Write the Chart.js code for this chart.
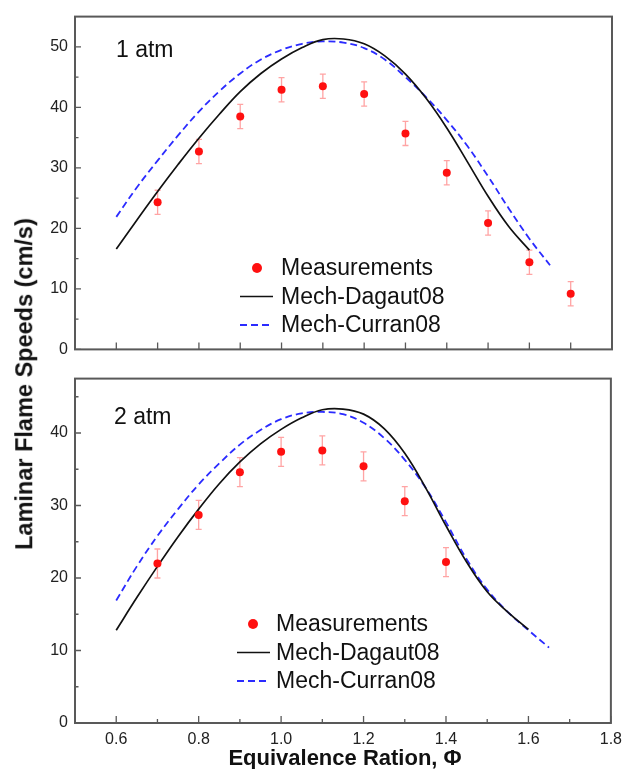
<!DOCTYPE html>
<html>
<head>
  <title>Laminar Flame Speeds</title>
  <script src="https://cdn.jsdelivr.net/npm/chart.js"></script>
  <style>
    body { margin: 0; background: #fff; width: 629px; height: 769px; position: relative; overflow: hidden;
           font-family: Arial, "Liberation Sans", sans-serif; color: #111; }
    canvas { position: absolute; left: 0; }
    .lbl { position: absolute; white-space: nowrap; line-height: 1; }
    .atm { font-size: 23px; transform: translateY(-50%); }
    #ytitle { left: 25px; top: 384px; font-size: 23.5px; font-weight: bold; transform: translate(-50%, -50%) rotate(-90deg); }
    #xtitle { left: 345px; top: 758px; font-size: 22px; font-weight: bold; transform: translate(-50%, -50%); }
  </style>
</head>
<body>
<canvas id="topChart" width="629" height="366" style="top:0"></canvas>
<canvas id="bottomChart" width="629" height="407" style="top:362px"></canvas>
<div class="lbl atm" style="left:116px;top:49px">1 atm</div>
<div class="lbl atm" style="left:114px;top:416px">2 atm</div>
<div class="lbl" id="ytitle">Laminar Flame Speeds (cm/s)</div>
<div class="lbl" id="xtitle">Equivalence Ration, Φ</div>

<script>
  // ---- data ----
  const phiMeas1 = [0.7, 0.8, 0.9, 1.0, 1.1, 1.2, 1.3, 1.4, 1.5, 1.6, 1.7];
  const speedMeas1 = [24.3, 32.7, 38.5, 42.9, 43.5, 42.2, 35.7, 29.2, 20.9, 14.4, 9.2];
  const errMeas1 = [2.0, 2.0, 2.0, 2.0, 2.0, 2.0, 2.0, 2.0, 2.0, 2.0, 2.0];

  const phiDagaut1 = [0.6, 0.65, 0.7, 0.75, 0.8, 0.85, 0.9, 0.95, 1.0, 1.05, 1.1, 1.15, 1.2, 1.25, 1.3, 1.35, 1.4, 1.45, 1.5, 1.55, 1.6];
  const speedDagaut1 = [16.6, 21.4, 26.1, 30.6, 34.9, 38.9, 42.6, 45.6, 48.0, 49.9, 51.2, 51.3, 50.5, 48.5, 45.5, 41.5, 36.6, 31.0, 25.3, 20.3, 16.4];
  const phiCurran1 = [0.6, 0.65, 0.7, 0.75, 0.8, 0.85, 0.9, 0.95, 1.0, 1.05, 1.1, 1.15, 1.2, 1.25, 1.3, 1.35, 1.4, 1.45, 1.5, 1.55, 1.6, 1.65];
  const speedCurran1 = [21.9, 26.8, 31.2, 35.4, 39.3, 42.7, 45.6, 47.9, 49.5, 50.5, 50.9, 50.7, 49.8, 47.9, 45.0, 41.7, 37.9, 33.6, 28.6, 23.3, 18.3, 13.9];

  const phiMeas2 = [0.7, 0.8, 0.9, 1.0, 1.1, 1.2, 1.3, 1.4];
  const speedMeas2 = [22.0, 28.7, 34.6, 37.4, 37.6, 35.4, 30.6, 22.2];
  const errMeas2 = [2.0, 2.0, 2.0, 2.0, 2.0, 2.0, 2.0, 2.0];

  const phiDagaut2 = [0.6, 0.65, 0.7, 0.75, 0.8, 0.85, 0.9, 0.95, 1.0, 1.05, 1.1, 1.15, 1.2, 1.25, 1.3, 1.35, 1.4, 1.45, 1.5, 1.55, 1.6];
  const speedDagaut2 = [12.8, 17.3, 21.6, 25.7, 29.5, 33.0, 36.0, 38.5, 40.5, 42.1, 43.2, 43.3, 42.6, 40.6, 37.2, 32.5, 27.2, 22.2, 18.1, 15.3, 12.9];
  const phiCurran2 = [0.6, 0.65, 0.7, 0.75, 0.8, 0.85, 0.9, 0.95, 1.0, 1.05, 1.1, 1.15, 1.2, 1.25, 1.3, 1.35, 1.4, 1.45, 1.5, 1.55, 1.6, 1.65];
  const speedCurran2 = [16.9, 21.6, 25.8, 29.5, 32.9, 35.8, 38.4, 40.4, 41.9, 42.7, 42.9, 42.6, 41.4, 39.3, 36.3, 32.5, 27.7, 22.6, 18.4, 15.3, 12.8, 10.4];

  // ---- ticks ----
  const xLabelTicks = [0.6, 0.8, 1.0, 1.2, 1.4, 1.6, 1.8];
  const xTopTicks = [0.6, 0.7, 0.8, 0.9, 1.0, 1.1, 1.2, 1.3, 1.4, 1.5, 1.6, 1.7];
  const xMinorTicks = [0.7, 0.9, 1.1, 1.3, 1.5, 1.7];
  const yTicks1 = [0, 10, 20, 30, 40, 50];
  const yTicks2 = [0, 10, 20, 30, 40];
  const yMinor1 = [5, 15, 25, 35, 45];
  const yMinor2 = [5, 15, 25, 35, 45];

  const labels = ['Measurements', 'Mech-Dagaut08', 'Mech-Curran08'];

  const pts = (xs, ys) => xs.map((x, i) => ({ x: x, y: ys[i] }));

  function frameAndLegend(p) {
    return {
      id: 'frameAndLegend',
      beforeDatasetsDraw(chart) {
        // error bars, under the markers
        const { ctx, scales: { x, y } } = chart;
        ctx.save();
        ctx.strokeStyle = 'rgba(255,90,90,0.55)';
        ctx.lineWidth = 1.3;
        ctx.beginPath();
        chart.data.datasets[0].data.forEach((d, i) => {
          const px = x.getPixelForValue(d.x);
          const y1 = y.getPixelForValue(d.y - p.errors[i]);
          const y2 = y.getPixelForValue(d.y + p.errors[i]);
          ctx.moveTo(px, y1); ctx.lineTo(px, y2);
          ctx.moveTo(px - 3, y1); ctx.lineTo(px + 3, y1);
          ctx.moveTo(px - 3, y2); ctx.lineTo(px + 3, y2);
        });
        ctx.stroke();
        ctx.restore();
      },
      afterDraw(chart) {
        const { ctx, chartArea: a, scales: { x, y } } = chart;
        ctx.save();
        ctx.strokeStyle = '#595959';
        ctx.lineWidth = 2;
        ctx.strokeRect(a.left, a.top, a.right - a.left, a.bottom - a.top);

        // inward ticks
        ctx.lineWidth = 1.3;
        ctx.beginPath();
        p.xMajor.forEach(v => {
          const px = x.getPixelForValue(v);
          ctx.moveTo(px, a.bottom); ctx.lineTo(px, a.bottom - 7);
        });
        p.xMinor.forEach(v => {
          const px = x.getPixelForValue(v);
          ctx.moveTo(px, a.bottom); ctx.lineTo(px, a.bottom - 4);
        });
        p.yMajor.forEach(v => {
          const py = y.getPixelForValue(v);
          ctx.moveTo(a.left, py); ctx.lineTo(a.left + 6, py);
        });
        p.yMinor.forEach(v => {
          const py = y.getPixelForValue(v);
          ctx.moveTo(a.left, py); ctx.lineTo(a.left + 3.5, py);
        });
        ctx.stroke();

        // legend inside the plot
        const L = p.legend;
        ctx.font = '23px Arial, "Liberation Sans", sans-serif';
        ctx.textBaseline = 'middle';
        chart.data.datasets.forEach((ds, i) => {
          const yy = L.y + i * L.gap;
          if (ds.showLine === false) {
            ctx.fillStyle = ds.backgroundColor;
            ctx.beginPath();
            ctx.arc(L.mark, yy, 5, 0, Math.PI * 2);
            ctx.fill();
          } else {
            ctx.strokeStyle = ds.borderColor;
            ctx.lineWidth = ds.borderWidth;
            ctx.setLineDash(ds.borderDash || []);
            ctx.beginPath();
            ctx.moveTo(L.x0, yy); ctx.lineTo(L.x1, yy);
            ctx.stroke();
            ctx.setLineDash([]);
          }
          ctx.fillStyle = '#111';
          ctx.fillText(ds.label, L.text, yy + 1);
        });
        ctx.restore();
      }
    };
  }

  function makeChart(id, cfg) {
    return new Chart(document.getElementById(id), {
      type: 'line',
      data: {
        datasets: [
          { label: labels[0], data: pts(cfg.mx, cfg.my), showLine: false,
            pointRadius: 4, pointBorderWidth: 0, backgroundColor: '#ff1010', borderColor: '#ff1010' },
          { label: labels[1], data: pts(cfg.dx, cfg.dy), borderColor: '#111', borderWidth: 1.7,
            pointRadius: 0, tension: 0.4, fill: false },
          { label: labels[2], data: pts(cfg.cx, cfg.cy), borderColor: '#2b2bff', borderWidth: 1.8,
            borderDash: [7, 4], pointRadius: 0, tension: 0.4, fill: false }
        ]
      },
      options: {
        responsive: false,
        devicePixelRatio: 1,
        animation: false,
        layout: { padding: { left: 0, right: 17, top: cfg.padTop, bottom: 0 } },
        plugins: { legend: { display: false }, tooltip: { enabled: false } },
        scales: {
          x: {
            type: 'linear', min: 0.5, max: 1.8,
            grid: { display: false, drawTicks: false },
            border: { display: false },
            afterBuildTicks: s => { s.ticks = xLabelTicks.map(v => ({ value: v })); },
            afterFit: s => { s.height = cfg.xHeight; },
            ticks: { display: cfg.showX, padding: 7, color: '#222', maxRotation: 0, autoSkip: false,
                     font: { size: 16, family: 'Arial, "Liberation Sans", sans-serif' },
                     callback: v => Number(v).toFixed(1) }
          },
          y: {
            min: 0, max: cfg.yMax,
            grid: { display: false, drawTicks: false },
            border: { display: false },
            afterBuildTicks: s => { s.ticks = cfg.yTicks.map(v => ({ value: v })); },
            afterFit: s => { s.width = 75; },
            ticks: { padding: 7, color: '#222',
                     font: { size: 16, family: 'Arial, "Liberation Sans", sans-serif' } }
          }
        }
      },
      plugins: [frameAndLegend(cfg.frame)]
    });
  }

  makeChart('topChart', {
    mx: phiMeas1, my: speedMeas1, dx: phiDagaut1, dy: speedDagaut1, cx: phiCurran1, cy: speedCurran1,
    yMax: 55, yTicks: yTicks1, padTop: 8, xHeight: 5, showX: false,
    frame: { errors: errMeas1, xMajor: xTopTicks, xMinor: [], yMajor: yTicks1, yMinor: yMinor1,
             legend: { mark: 257, x0: 240, x1: 273, text: 281, y: 268, gap: 28.5 } }
  });

  makeChart('bottomChart', {
    mx: phiMeas2, my: speedMeas2, dx: phiDagaut2, dy: speedDagaut2, cx: phiCurran2, cy: speedCurran2,
    yMax: 47.5, yTicks: yTicks2, padTop: 7, xHeight: 46, showX: true,
    frame: { errors: errMeas2, xMajor: xLabelTicks, xMinor: xMinorTicks, yMajor: yTicks2, yMinor: yMinor2,
             legend: { mark: 253, x0: 237, x1: 270, text: 276, y: 262, gap: 28.5 } }
  });
</script>
</body>
</html>
